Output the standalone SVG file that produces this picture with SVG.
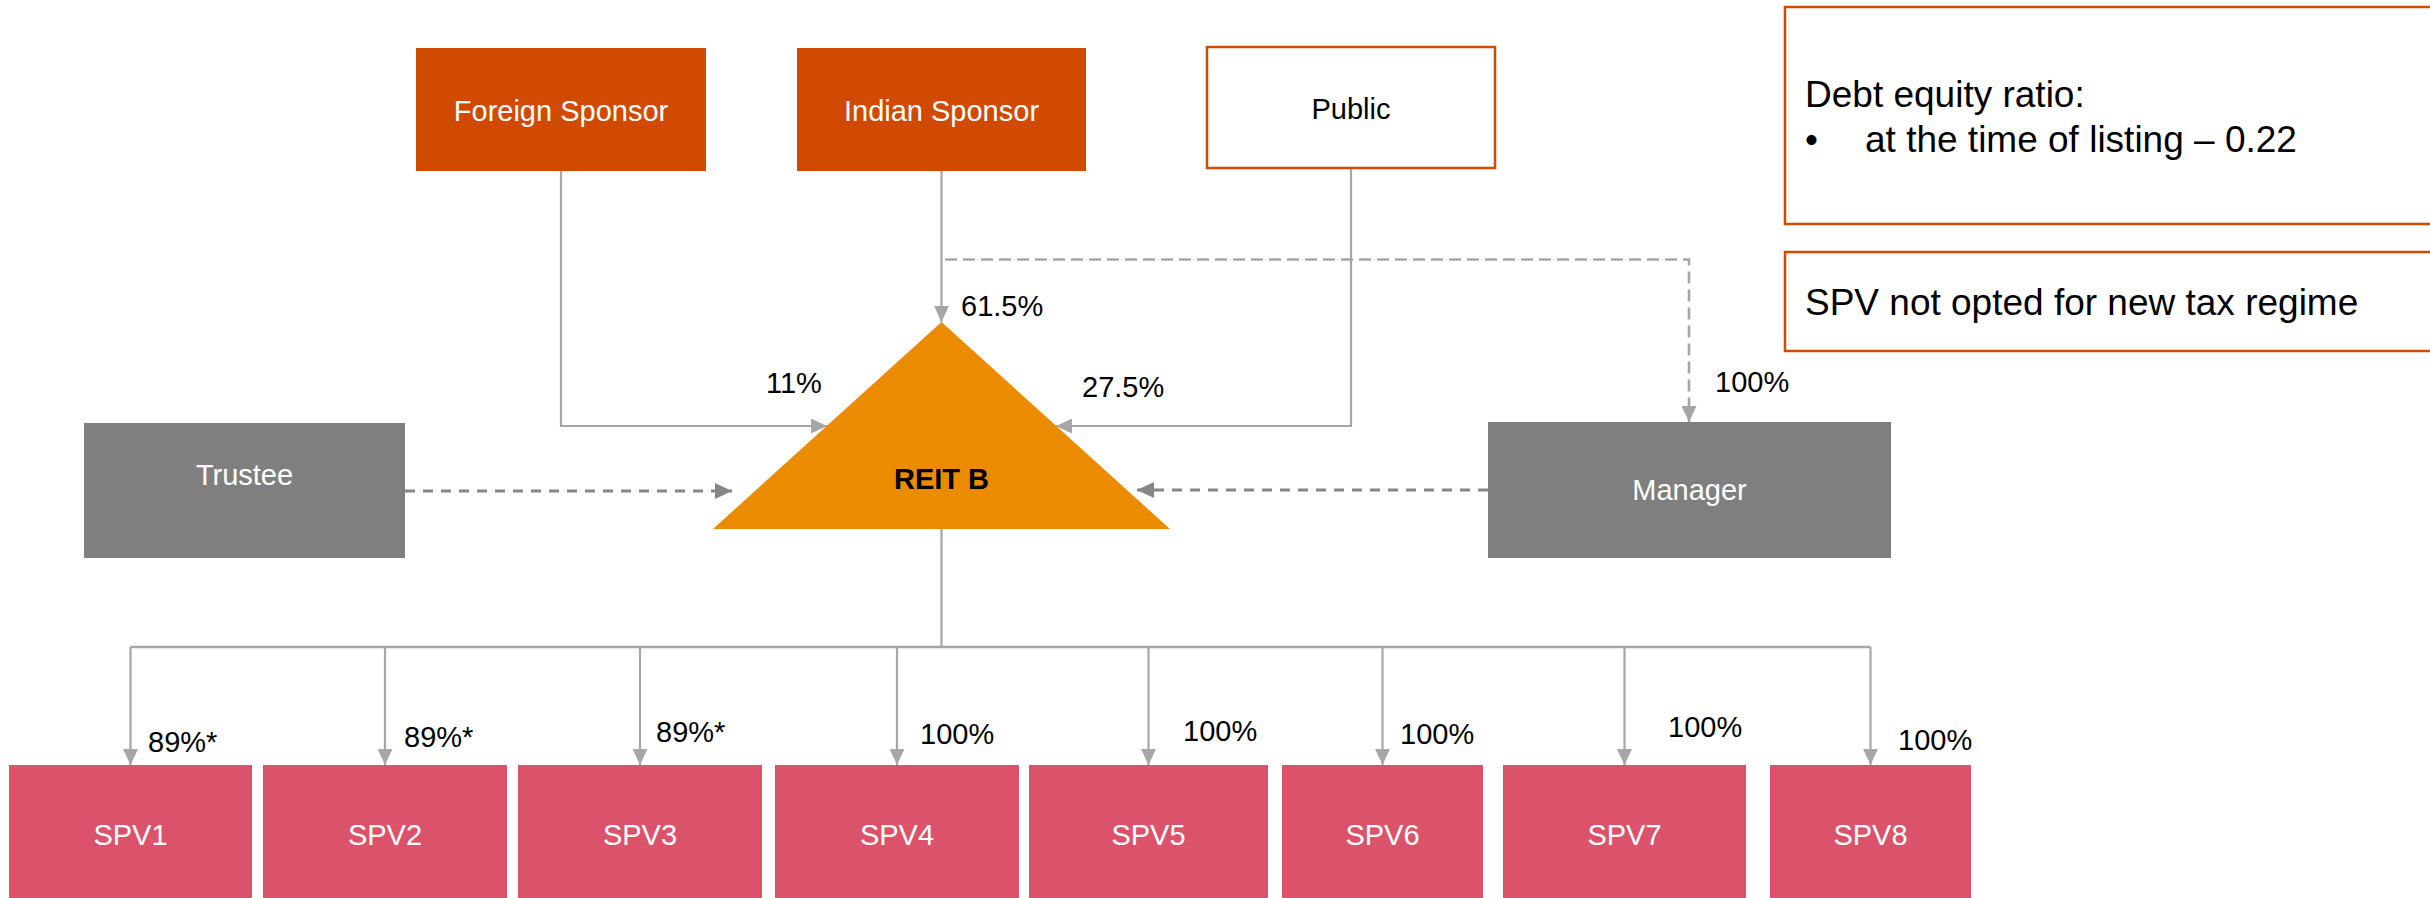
<svg xmlns="http://www.w3.org/2000/svg" width="2430" height="898" viewBox="0 0 2430 898">
  <defs>
    <style>
      text { font-family: "Liberation Sans", Arial, sans-serif; font-size: 29px; }
      .wt { fill: #ffffff; text-anchor: middle; }
      .bk { fill: #000000; }
      .mid { text-anchor: middle; }
      .sponsor { fill: #D04A02; }
      .gray { fill: #7F7F7F; }
      .spv { fill: #DB536A; }
      .note { fill: #ffffff; stroke: #D04A02; stroke-width: 2.5; }
      .note-text { font-size: 37px; fill: #000000; }
      .solid { fill: none; stroke: #A6A6A6; stroke-width: 2.2; }
      .dash-own { fill: none; stroke: #A6A6A6; stroke-width: 2.6; stroke-dasharray: 12 6; }
      .dash-rel { fill: none; stroke: #858585; stroke-width: 3; stroke-dasharray: 10 8; }
    </style>
    <marker id="arrow" markerUnits="userSpaceOnUse" markerWidth="16" markerHeight="15" viewBox="0 0 15 14" refX="15" refY="7" orient="auto">
      <path d="M0,0 L15,7 L0,14 z" fill="#A6A6A6"/>
    </marker>
    <marker id="arrow-dark" markerUnits="userSpaceOnUse" markerWidth="17" markerHeight="16" viewBox="0 0 16 15" refX="16" refY="7.5" orient="auto">
      <path d="M0,0 L16,7.5 L0,15 z" fill="#858585"/>
    </marker>
  </defs>

  <rect width="2430" height="898" fill="#ffffff"/>

  <!-- connectors -->
  <g id="connectors">
    <path class="solid" d="M561,171 V426 H827" marker-end="url(#arrow)"/>
    <path class="solid" d="M1351,168 V426 H1056" marker-end="url(#arrow)"/>
    <path class="solid" d="M941.5,171 V322" marker-end="url(#arrow)"/>
    <path class="dash-own" d="M945,259.5 H1689 V422" marker-end="url(#arrow)"/>
    <path class="dash-rel" d="M405,491 H732" marker-end="url(#arrow-dark)"/>
    <path class="dash-rel" d="M1488,490 H1137" marker-end="url(#arrow-dark)"/>
    <path class="solid" d="M941.5,529 V647"/>
    <path class="solid" d="M130.5,647 H1870.5" style="stroke-width:2.6"/>
    <path class="solid" d="M130.5,647 V765" marker-end="url(#arrow)"/>
    <path class="solid" d="M385,647 V765" marker-end="url(#arrow)"/>
    <path class="solid" d="M640,647 V765" marker-end="url(#arrow)"/>
    <path class="solid" d="M897,647 V765" marker-end="url(#arrow)"/>
    <path class="solid" d="M1148.5,647 V765" marker-end="url(#arrow)"/>
    <path class="solid" d="M1382.5,647 V765" marker-end="url(#arrow)"/>
    <path class="solid" d="M1624.5,647 V765" marker-end="url(#arrow)"/>
    <path class="solid" d="M1870.5,647 V765" marker-end="url(#arrow)"/>
  </g>

  <!-- connector labels -->
  <g id="labels" class="bk">
    <text x="961" y="316">61.5%</text>
    <text x="766" y="393">11%</text>
    <text x="1082" y="397">27.5%</text>
    <text x="1715" y="392">100%</text>
    <text x="148" y="752">89%*</text>
    <text x="404" y="747">89%*</text>
    <text x="656" y="742">89%*</text>
    <text x="920" y="744">100%</text>
    <text x="1183" y="741">100%</text>
    <text x="1400" y="744">100%</text>
    <text x="1668" y="737">100%</text>
    <text x="1898" y="750">100%</text>
  </g>

  <g id="foreign-sponsor">
    <rect class="sponsor" x="416" y="48" width="290" height="123"/>
    <text class="wt" x="561" y="121">Foreign Sponsor</text>
  </g>
  <g id="indian-sponsor">
    <rect class="sponsor" x="797" y="48" width="289" height="123"/>
    <text class="wt" x="941.5" y="121">Indian Sponsor</text>
  </g>
  <g id="public">
    <rect x="1207" y="47" width="288" height="121" fill="#ffffff" stroke="#D04A02" stroke-width="2.5"/>
    <text class="bk mid" x="1351" y="119">Public</text>
  </g>

  <g id="trustee">
    <rect class="gray" x="84" y="423" width="321" height="135"/>
    <text class="wt" x="244.5" y="485">Trustee</text>
  </g>
  <g id="reit-b">
    <polygon points="941.5,322 713,529 1170,529" fill="#EB8C00"/>
    <text class="bk mid" x="941.5" y="489" font-weight="bold">REIT B</text>
  </g>
  <g id="manager">
    <rect class="gray" x="1488" y="422" width="403" height="136"/>
    <text class="wt" x="1689.5" y="500">Manager</text>
  </g>

  <g id="note-debt">
    <rect class="note" x="1785" y="7" width="700" height="217"/>
    <text class="note-text" x="1805" y="107">Debt equity ratio:</text>
    <text class="note-text" x="1805" y="152">•</text>
    <text class="note-text" x="1865" y="152">at the time of listing – 0.22</text>
  </g>
  <g id="note-tax">
    <rect class="note" x="1785" y="252" width="700" height="99"/>
    <text class="note-text" x="1805" y="315">SPV not opted for new tax regime</text>
  </g>

  <g id="spv1"><rect class="spv" x="9" y="765" width="243" height="133"/><text class="wt" x="130.5" y="845">SPV1</text></g>
  <g id="spv2"><rect class="spv" x="263" y="765" width="244" height="133"/><text class="wt" x="385" y="845">SPV2</text></g>
  <g id="spv3"><rect class="spv" x="518" y="765" width="244" height="133"/><text class="wt" x="640" y="845">SPV3</text></g>
  <g id="spv4"><rect class="spv" x="775" y="765" width="244" height="133"/><text class="wt" x="897" y="845">SPV4</text></g>
  <g id="spv5"><rect class="spv" x="1029" y="765" width="239" height="133"/><text class="wt" x="1148.5" y="845">SPV5</text></g>
  <g id="spv6"><rect class="spv" x="1282" y="765" width="201" height="133"/><text class="wt" x="1382.5" y="845">SPV6</text></g>
  <g id="spv7"><rect class="spv" x="1503" y="765" width="243" height="133"/><text class="wt" x="1624.5" y="845">SPV7</text></g>
  <g id="spv8"><rect class="spv" x="1770" y="765" width="201" height="133"/><text class="wt" x="1870.5" y="845">SPV8</text></g>
</svg>
